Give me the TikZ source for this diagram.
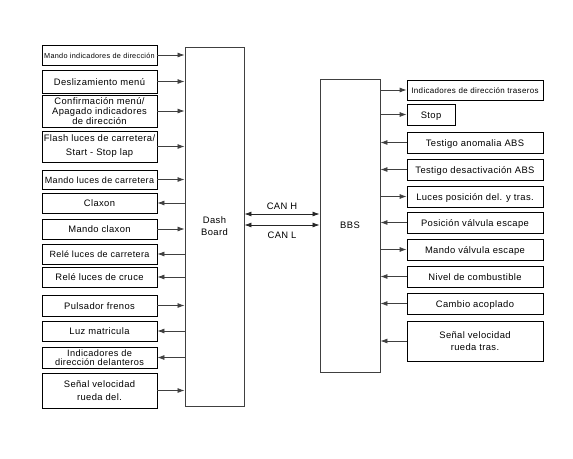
\documentclass[tikz,border=0pt]{standalone}
\usepackage{fontspec}
\setmainfont{Liberation Sans}[LetterSpace=4]
\usetikzlibrary{arrows.meta}
\begin{document}
\begin{tikzpicture}[x=1pt,y=-1pt,
  box/.style={draw=black, line width=0.8pt, inner sep=0pt,
    font=\fontsize{9.4}{9.8}\selectfont},
  lbox/.style={box, minimum width=115pt},
  rbox/.style={box, minimum width=136pt},
  one/.style={text height=7pt, text depth=0pt},
  multi/.style={align=center},
  ecu/.style={draw=black!75, line width=0.9pt, inner sep=0pt, align=center,
    font=\fontsize{9.4}{12}\selectfont},
  conn/.style={draw=black!75, line width=0.8pt, -{Latex[length=7pt,width=5pt]}},
  biconn/.style={draw=black!85, line width=0.8pt, {Latex[length=7pt,width=5pt]}-{Latex[length=7pt,width=5pt]}},
  lbl/.style={inner sep=0pt, font=\fontsize{9.4}{11}\selectfont}]
\useasboundingbox (0,0) rectangle (573,458);
\fill[white] (0,0) rectangle (573,458);

% control units
\node[ecu, minimum width=59pt, minimum height=359pt] (dash) at (214.5,226.5) {Dash\\Board};
\node[ecu, minimum width=60pt, minimum height=293pt] (bbs) at (350,225.5) {BBS};

% left boxes
\node[lbox, one, minimum height=20pt, font=\fontsize{7.3}{9}\selectfont] (l1) at (99.5,55) {Mando indicadores de dirección};
\node[lbox, one, minimum height=23pt] (l2) at (99.5,81.5) {Deslizamiento menú};
\node[lbox, multi, minimum height=32pt] (l3) at (99.5,111) {Confirmación menú/\\Apagado indicadores\\de dirección};
\node[lbox, multi, minimum height=31pt, font=\fontsize{9.4}{14}\selectfont] (l4) at (99.5,146.5) {Flash luces de carretera/\\Start - Stop lap};
\node[lbox, one, minimum height=19pt, font=\fontsize{9}{10}\selectfont] (l5) at (99.5,179.5) {Mando luces de carretera};
\node[lbox, one, minimum height=20pt] (l6) at (99.5,203) {Claxon};
\node[lbox, one, minimum height=20pt] (l7) at (99.5,229) {Mando claxon};
\node[lbox, one, minimum height=20pt, font=\fontsize{9}{10}\selectfont] (l8) at (99.5,254) {Relé luces de carretera};
\node[lbox, one, minimum height=20pt] (l9) at (99.5,277) {Relé luces de cruce};
\node[lbox, one, minimum height=21pt] (l10) at (99.5,305.5) {Pulsador frenos};
\node[lbox, one, minimum height=20pt] (l11) at (99.5,331) {Luz matricula};
\node[lbox, multi, minimum height=21pt, font=\fontsize{9.2}{9.3}\selectfont] (l12) at (99.5,357.5) {Indicadores de\\dirección delanteros};
\node[lbox, multi, minimum height=35pt, font=\fontsize{9.4}{13}\selectfont] (l13) at (99.5,390.5) {Señal velocidad\\rueda del.};

% left connectors: inputs to Dash Board
\foreach \n in {l1,l2,l3,l4,l5,l7,l10,l13}
  \draw[conn] (\n.east) -- (\n.east -| dash.west);
% left connectors: outputs from Dash Board
\foreach \n in {l6,l8,l9,l11,l12}
  \draw[conn] (\n.east -| dash.west) -- (\n.east);

% CAN bus
\coordinate (canh) at (0,214);
\coordinate (canl) at (0,225);
\draw[biconn] (dash.east |- canh) -- (bbs.west |- canh);
\draw[biconn] (dash.east |- canl) -- (bbs.west |- canl);
\node[lbl] (canhl) at (282,206) {CAN H};
\node[lbl] (canll) at (282,235) {CAN L};

% right boxes
\node[rbox, one, minimum height=20pt, font=\fontsize{8}{9}\selectfont] (r1) at (475,90) {Indicadores de dirección traseros};
\node[box, one, minimum width=48pt, minimum height=21pt] (r2) at (431,114.5) {Stop};
\node[rbox, one, minimum height=21pt] (r3) at (475,142.5) {Testigo anomalia ABS};
\node[rbox, one, minimum height=21pt] (r4) at (475,169.5) {Testigo desactivación ABS};
\node[rbox, one, minimum height=21pt] (r5) at (475,196.5) {Luces posición del. y tras.};
\node[rbox, one, minimum height=21pt] (r6) at (475,222.5) {Posición válvula escape};
\node[rbox, one, minimum height=21pt] (r7) at (475,249.5) {Mando válvula escape};
\node[rbox, one, minimum height=21pt] (r8) at (475,276.5) {Nivel de combustible};
\node[rbox, one, minimum height=21pt] (r9) at (475,303.5) {Cambio acoplado};
\node[rbox, multi, minimum height=40pt, font=\fontsize{9.4}{12}\selectfont] (r10) at (475,341) {Señal velocidad\\rueda tras.};

% right connectors: outputs from BBS
\foreach \n in {r1,r2,r5,r7}
  \draw[conn] (\n.west -| bbs.east) -- (\n.west);
% right connectors: inputs to BBS
\foreach \n in {r3,r4,r6,r8,r9,r10}
  \draw[conn] (\n.west) -- (\n.west -| bbs.east);
\end{tikzpicture}
\end{document}
